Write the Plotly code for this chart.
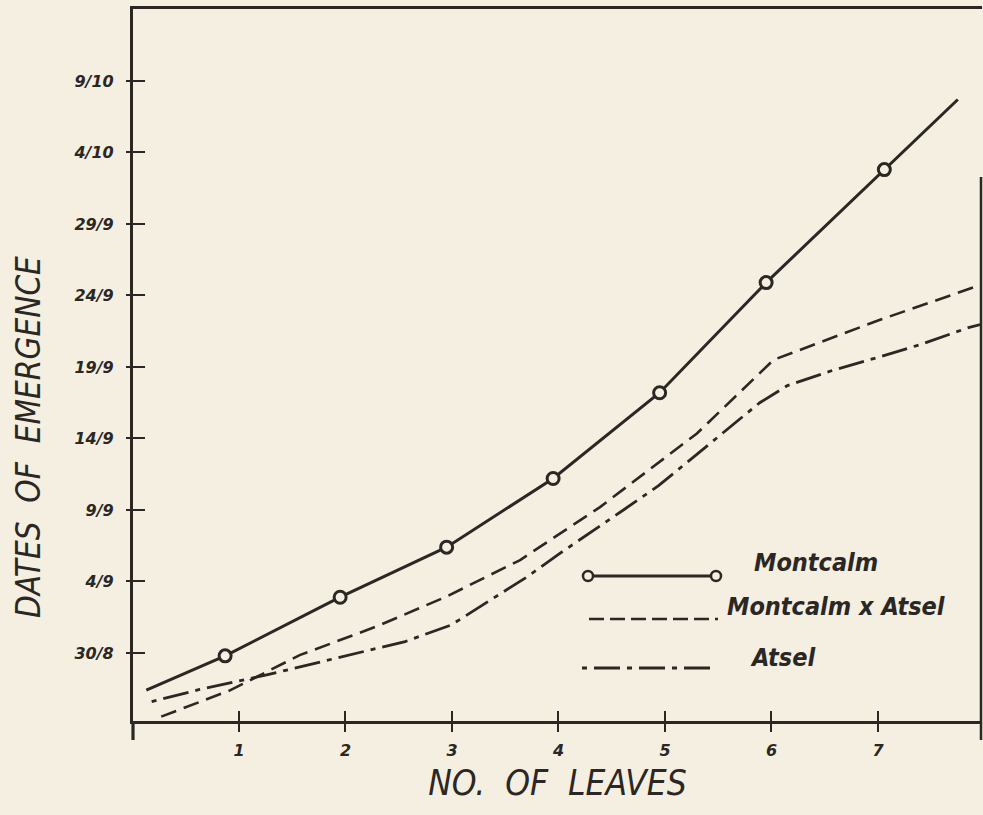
import plotly.graph_objects as go

# ---------------- data (days counted from 30/8) ----------------
series_names = ["Montcalm", "Montcalm x Atsel", "Atsel"]

montcalm_x = [0.13, 0.87, 1.95, 2.95, 3.95, 4.95, 5.95, 7.06, 7.75]
montcalm_y = [-2.6, -0.2, 3.9, 7.4, 12.2, 18.2, 25.9, 33.8, 38.7]
montcalm_marked = [False, True, True, True, True, True, True, True, False]

cross_x = [0.27, 0.92, 1.57, 2.29, 2.95, 3.64, 4.39, 5.30, 6.02, 7.02, 7.95]
cross_y = [-4.45, -2.6, -0.15, 1.85, 3.95, 6.5, 10.2, 15.35, 20.5, 23.3, 25.7]

atsel_x = [0.18, 0.63, 1.25, 1.81, 2.56, 2.99, 3.33, 3.70, 4.00, 4.30, 4.62,
           4.94, 5.30, 5.61, 5.89, 6.15, 6.57, 6.99, 7.39, 7.85, 7.98]
atsel_y = [-3.4, -2.55, -1.55, -0.55, 0.8, 1.95, 3.55, 5.3, 6.9, 8.4, 10.05,
           11.7, 13.9, 15.75, 17.5, 18.7, 19.75, 20.65, 21.55, 22.75, 23.0]

x_tickvals = [1, 2, 3, 4, 5, 6, 7]
x_ticktext = ["1", "2", "3", "4", "5", "6", "7"]
y_tickvals = [0, 5, 10, 15, 20, 25, 30, 35, 40]
y_ticktext = ["30/8", "4/9", "9/9", "14/9", "19/9", "24/9", "29/9", "4/10", "9/10"]

x_title = "NO.  OF  LEAVES"
y_title = "DATES  OF  EMERGENCE"

# ---------------- style ----------------
W, H = 983, 815
ML, MR, MT, MB = 133, 1, 9, 94
PX0, PX1, PY0, PY1 = ML, W - MR, MT, H - MB   # plot area in pixels
INK = "#2b2724"
BG = "#f4efe1"
XR = [0.005, 7.977]
YR = [-4.755, 45.03]
LETTER = "Liberation Sans Narrow, DejaVu Sans Condensed, Arial Narrow, sans-serif"
TICKFONT = dict(family="DejaVu Sans, sans-serif", size=16, color=INK,
                weight="bold", style="italic")


def P(px, py):
    """pixel -> paper coordinates (paper spans the plot area)"""
    return (px - PX0) / (PX1 - PX0), (PY1 - py) / (PY1 - PY0)


fig = go.Figure()

fig.add_trace(go.Scatter(
    x=montcalm_x, y=montcalm_y, mode="lines+markers", name=series_names[0],
    line=dict(color=INK, width=3),
    marker=dict(symbol="circle", size=12, color=BG,
                line=dict(color=INK, width=3),
                opacity=[1 if m else 0 for m in montcalm_marked]),
    showlegend=False))

fig.add_trace(go.Scatter(
    x=cross_x, y=cross_y, mode="lines", name=series_names[1],
    line=dict(color=INK, width=2.6, dash="16px,8px"),
    showlegend=False))

fig.add_trace(go.Scatter(
    x=atsel_x, y=atsel_y, mode="lines", name=series_names[2],
    line=dict(color=INK, width=2.8, dash="5px,7px,26px,7px"),
    showlegend=False))

# invisible trace for the overlay axes (outer halves of the crossing ticks)
fig.add_trace(go.Scatter(x=[None], y=[None], xaxis="x2", yaxis="y2",
                         showlegend=False, hoverinfo="skip"))

# ---------------- legend drawn inside the plot ----------------
shapes = []
annotations = []

a = P(588, 576); b = P(716, 576)
shapes.append(dict(type="line", xref="paper", yref="paper", x0=a[0], y0=a[1],
                   x1=b[0], y1=b[1], line=dict(color=INK, width=3)))
for cx in (588, 716):
    c0 = P(cx - 5, 581); c1 = P(cx + 5, 571)
    shapes.append(dict(type="circle", xref="paper", yref="paper",
                       x0=c0[0], y0=c0[1], x1=c1[0], y1=c1[1],
                       fillcolor=BG, line=dict(color=INK, width=2.5)))
a = P(589, 619); b = P(718, 619)
shapes.append(dict(type="line", xref="paper", yref="paper", x0=a[0], y0=a[1],
                   x1=b[0], y1=b[1], line=dict(color=INK, width=2.6, dash="15px,6px")))
a = P(582, 668); b = P(714, 668)
shapes.append(dict(type="line", xref="paper", yref="paper", x0=a[0], y0=a[1],
                   x1=b[0], y1=b[1], line=dict(color=INK, width=2.8,
                                               dash="5px,7px,26px,7px")))

legend_pos = [(752, 562), (725, 606), (748, 657)]
for name, (lx, ly) in zip(series_names, legend_pos):
    p = P(lx, ly)
    annotations.append(dict(
        text=name, x=p[0], y=p[1], xref="paper", yref="paper",
        xanchor="left", yanchor="middle", showarrow=False,
        font=dict(family=LETTER, size=25, color=INK, style="italic", weight="bold")))

# y-axis title placed as in the reference (lower than the plot centre)
p = P(28, 437)
annotations.append(dict(
    text=y_title, x=p[0], y=p[1], xref="paper", yref="paper",
    xanchor="center", yanchor="middle", textangle=-90, showarrow=False,
    font=dict(family=LETTER, size=33, color=INK, style="italic")))

# frame pieces: right border (partial) and axis extension below the x axis
a = P(981, 177); b = P(981, 740)
shapes.append(dict(type="line", xref="paper", yref="paper", x0=a[0], y0=a[1],
                   x1=b[0], y1=b[1], line=dict(color=INK, width=2.5)))
a = P(PX0, PY1); b = P(PX0, 740)
shapes.append(dict(type="line", xref="paper", yref="paper", x0=a[0], y0=a[1],
                   x1=b[0], y1=b[1], line=dict(color=INK, width=3.2)))

fig.update_layout(
    width=W, height=H,
    margin=dict(l=ML, r=MR, t=MT, b=MB, pad=0),
    paper_bgcolor=BG, plot_bgcolor=BG,
    showlegend=False,
    shapes=shapes, annotations=annotations,
    xaxis=dict(range=XR, tickmode="array", tickvals=x_tickvals, ticktext=x_ticktext,
               ticks="inside", ticklen=10, tickwidth=1.8, tickcolor=INK,
               showline=True, linecolor=INK, linewidth=3, mirror=True,
               showgrid=False, zeroline=False, tickfont=TICKFONT,
               ticklabelstandoff=13,
               title=dict(text=x_title, standoff=12,
                          font=dict(family=LETTER, size=35, color=INK, style="italic"))),
    yaxis=dict(range=YR, tickmode="array", tickvals=y_tickvals, ticktext=y_ticktext,
               ticks="inside", ticklen=12, tickwidth=2, tickcolor=INK,
               showline=True, linecolor=INK, linewidth=3.2,
               showgrid=False, zeroline=False, tickfont=TICKFONT,
               ticklabelstandoff=13),
    xaxis2=dict(range=XR, overlaying="x", anchor="y2", side="bottom",
                tickmode="array", tickvals=x_tickvals, ticks="outside", ticklen=10,
                tickwidth=1.8, tickcolor=INK, showticklabels=False,
                showline=False, showgrid=False, zeroline=False),
    yaxis2=dict(range=YR, overlaying="y", anchor="x2", side="left",
                tickmode="array", tickvals=y_tickvals, ticks="outside", ticklen=6,
                tickwidth=2, tickcolor=INK, showticklabels=False,
                showline=False, showgrid=False, zeroline=False),
)

fig.write_html("out.html",
               config={"displayModeBar": False},
               post_script="document.body.style.margin='0';"
                           "document.body.style.background='" + BG + "';")
